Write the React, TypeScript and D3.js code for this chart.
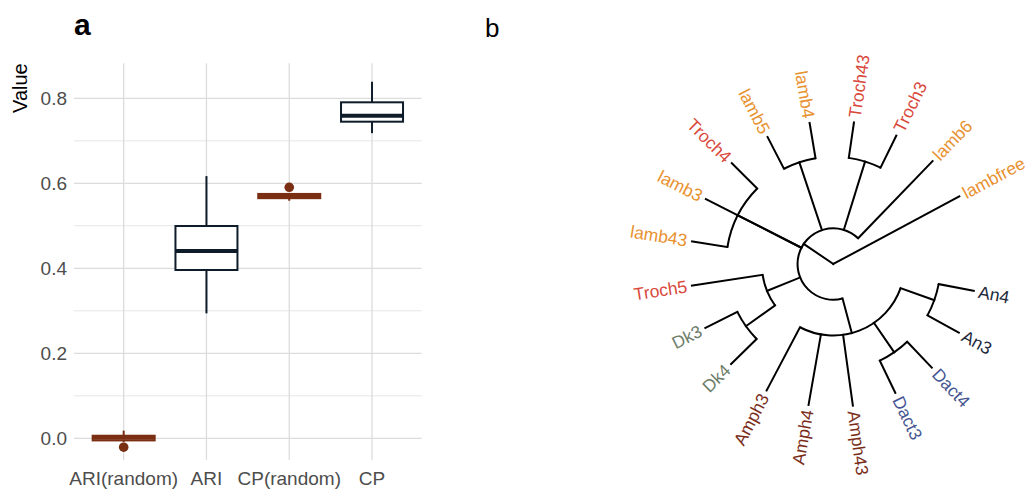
import React, { useEffect, useRef } from 'react';
import * as d3 from 'd3';

// panel a: box stats per category
const categories = ['ARI(random)', 'ARI', 'CP(random)', 'CP'];
const whiskerLow = [-0.009, 0.294, 0.559, 0.718];
const q1 = [-0.005, 0.396, 0.565, 0.745];
const median = [0.001, 0.441, 0.570, 0.759];
const q3 = [0.006, 0.4995, 0.575, 0.7906];
const whiskerHigh = [0.018, 0.617, 0.575, 0.839];
const outliers = [[-0.021], [], [0.5906], []];
const isRandom = [true, false, true, false];
const yTicks = [0, 0.2, 0.4, 0.6, 0.8];
const yMinor = [0.1, 0.3, 0.5, 0.7];

// panel b: tree (nested arrays) and tip order / groups
const tree = ['lambfree', ['lamb6', ['Troch3', 'Troch43'], ['lamb4', 'lamb5'], 'lamb3', ['Troch4', 'lamb43'],
  ['Troch5', ['Dk3', 'Dk4']], ['Amph3', 'Amph4', 'Amph43', ['Dact3', 'Dact4'], ['An3', 'An4']]]];
const tipOrder = ['lambfree', 'lamb6', 'Troch3', 'Troch43', 'lamb4', 'lamb5', 'Troch4', 'lamb3', 'lamb43',
  'Troch5', 'Dk3', 'Dk4', 'Amph3', 'Amph4', 'Amph43', 'Dact3', 'Dact4', 'An3', 'An4'];
const tipGroup = ['lamb', 'lamb', 'Troch', 'Troch', 'lamb', 'lamb', 'Troch', 'lamb', 'lamb',
  'Troch', 'Dk', 'Dk', 'Amph', 'Amph', 'Amph', 'Dact', 'Dact', 'An', 'An'];
const groupColors = { lamb: '#E8912F', Troch: '#D9483B', Dk: '#6E7D69', Amph: '#7A2E1A', Dact: '#465591', An: '#1E2A3A' };

const App = () => {
  const svgRef = useRef(null);

  useEffect(() => {
    const svg = d3.select(svgRef.current);
    svg.selectAll('*').remove();

    // ---------- panel a ----------
    const left = 74, right = 421.7, top = 63.3, bottom = 460;
    const x = d3.scalePoint().domain(categories).range([left, right]).padding(0.6);
    const y = d3.scaleLinear().domain([-0.0511, 0.8824]).range([bottom, top]);
    const boxW = 62;
    const font = '"Liberation Sans", Arial, sans-serif';

    const g = svg.append('g');

    g.selectAll('.minor').data(yMinor).join('line')
      .attr('x1', left).attr('x2', right)
      .attr('y1', d => y(d)).attr('y2', d => y(d))
      .attr('stroke', '#E6E6E6').attr('stroke-width', 1);
    g.selectAll('.major').data(yTicks).join('line')
      .attr('x1', left).attr('x2', right)
      .attr('y1', d => y(d)).attr('y2', d => y(d))
      .attr('stroke', '#DCDCDC').attr('stroke-width', 1.3);
    g.selectAll('.vgrid').data(categories).join('line')
      .attr('x1', d => x(d)).attr('x2', d => x(d))
      .attr('y1', top).attr('y2', bottom)
      .attr('stroke', '#DCDCDC').attr('stroke-width', 1.3);

    g.selectAll('.ytick').data(yTicks).join('text')
      .attr('x', 67).attr('y', d => y(d))
      .attr('text-anchor', 'end').attr('dominant-baseline', 'central')
      .style('font-family', font).style('font-size', '19px').style('fill', '#4D4D4D')
      .text(d => d.toFixed(1));
    g.selectAll('.xtick').data(categories).join('text')
      .attr('x', d => x(d)).attr('y', 485)
      .attr('text-anchor', 'middle')
      .style('font-family', font).style('font-size', '19px').style('fill', '#4D4D4D')
      .text(d => d);

    g.append('text')
      .attr('transform', `translate(27,${top}) rotate(-90)`)
      .attr('text-anchor', 'end')
      .style('font-family', font).style('font-size', '20px').style('fill', '#000')
      .text('Value');

    g.append('text').attr('x', 74).attr('y', 35)
      .style('font-family', font).style('font-size', '30px').style('font-weight', 'bold')
      .text('a');

    categories.forEach((c, i) => {
      const col = isRandom[i] ? '#7A2E12' : '#0E1C2A';
      const cx = x(c);
      g.append('line').attr('x1', cx).attr('x2', cx)
        .attr('y1', y(whiskerLow[i])).attr('y2', y(q1[i]))
        .attr('stroke', col).attr('stroke-width', 2);
      g.append('line').attr('x1', cx).attr('x2', cx)
        .attr('y1', y(q3[i])).attr('y2', y(whiskerHigh[i]))
        .attr('stroke', col).attr('stroke-width', 2);
      g.append('rect')
        .attr('x', cx - boxW / 2).attr('width', boxW)
        .attr('y', y(q3[i])).attr('height', y(q1[i]) - y(q3[i]))
        .attr('fill', 'white').attr('stroke', col).attr('stroke-width', 2);
      g.append('line').attr('x1', cx - boxW / 2).attr('x2', cx + boxW / 2)
        .attr('y1', y(median[i])).attr('y2', y(median[i]))
        .attr('stroke', col).attr('stroke-width', 4);
      g.selectAll(null).data(outliers[i]).join('circle')
        .attr('cx', cx).attr('cy', d => y(d)).attr('r', 4.8)
        .attr('fill', col);
    });

    // ---------- panel b ----------
    svg.append('text').attr('x', 485).attr('y', 37)
      .style('font-family', font).style('font-size', '26px')
      .text('b');

    const cx0 = 833.3, cy0 = 264, R = 143;
    const root = d3.hierarchy(tree, d => (Array.isArray(d) ? d : null));
    const H = root.height;
    const angle = d3.scaleLinear().domain([0, tipOrder.length - 1]).range([28.2, 349.2]);
    const radius = d3.scaleLinear().domain([H, 0]).range([0, R]);

    root.eachAfter(n => {
      if (n.children) n.a = d3.mean(n.children, c => c.a);
      else n.a = angle(tipOrder.indexOf(n.data));
      n.r = radius(n.height);
    });
    const rad = a => (a * Math.PI) / 180;
    const pt = (a, r) => [cx0 + r * Math.cos(rad(a)), cy0 - r * Math.sin(rad(a))];

    const tg = svg.append('g');
    // radial branches
    tg.selectAll('.branch').data(root.descendants().filter(n => n.parent)).join('line')
      .attr('x1', n => pt(n.a, n.parent.r)[0]).attr('y1', n => pt(n.a, n.parent.r)[1])
      .attr('x2', n => pt(n.a, n.r)[0]).attr('y2', n => pt(n.a, n.r)[1])
      .attr('stroke', '#000').attr('stroke-width', 2).attr('stroke-linecap', 'square');
    // arcs joining children
    tg.selectAll('.arc').data(root.descendants().filter(n => n.children && n.r > 0)).join('path')
      .attr('d', n => {
        const a0 = d3.min(n.children, c => c.a), a1 = d3.max(n.children, c => c.a);
        const p = d3.path();
        const s = pt(a0, n.r);
        p.moveTo(s[0], s[1]);
        p.arc(cx0, cy0, n.r, -rad(a0), -rad(a1), true);
        return p.toString();
      })
      .attr('fill', 'none').attr('stroke', '#000').attr('stroke-width', 2);

    // tip labels
    tg.selectAll('.tip').data(root.leaves()).join('text')
      .attr('transform', n => {
        const flip = n.a > 90 && n.a < 270;
        return `translate(${cx0},${cy0}) rotate(${-n.a}) translate(${R + 5},0)` + (flip ? ' rotate(180)' : '');
      })
      .attr('text-anchor', n => (n.a > 90 && n.a < 270 ? 'end' : 'start'))
      .attr('dominant-baseline', 'central')
      .style('font-family', font).style('font-size', '17.5px')
      .style('fill', n => groupColors[tipGroup[tipOrder.indexOf(n.data)]])
      .text(n => n.data);
  }, []);

  return (
    <svg ref={svgRef} width={1032} height={490}
      style={{ position: 'absolute', left: 0, top: 0, background: 'white' }} />
  );
};

export default App;
